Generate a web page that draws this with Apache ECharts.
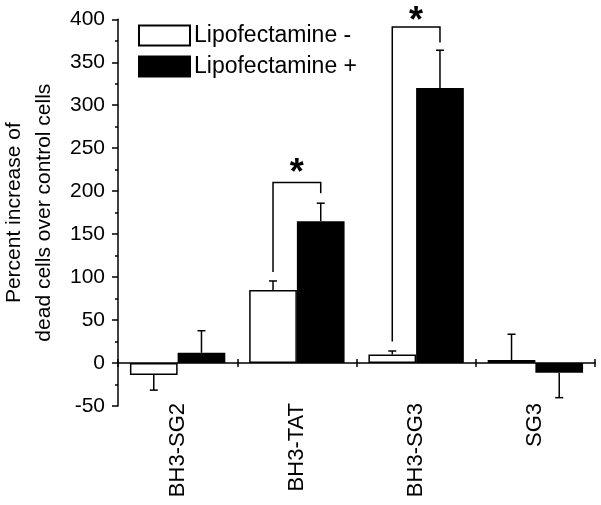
<!DOCTYPE html>
<html>
<head>
<meta charset="utf-8">
<script src="https://cdn.jsdelivr.net/npm/echarts@6/dist/echarts.min.js"></script>
<style>
html,body{margin:0;padding:0;background:#fff;}
#chart{width:601px;height:505px;}
</style>
</head>
<body>
<div id="chart"></div>
<script>
// ---- data ----
const categories = ['BH3-SG2', 'BH3-TAT', 'BH3-SG3', 'SG3'];
const lipoMinus = [-14, 85, 10, 3.5];
const lipoMinusErr = [17.5, 10.5, 4, 30];
const lipoPlus = [12, 165, 320, -11.3];
const lipoPlusErr = [25.6, 21, 44, 29];
// significance brackets: category index, left end, top, right end, star level
const bracketCats = [1, 2];
const bracketLeftEnd = [106, 25];
const bracketTop = [210, 391];
const bracketRightEnd = [197.5, 373];
const starLevel = [229, 405.6];
const yMin = -50, yMax = 400, yStep = 50;

const FONT = "'Liberation Sans', Arial, sans-serif";
const chart = echarts.init(document.getElementById('chart'), null, {renderer: 'canvas'});

function errRender(side) {
  return function (params, api) {
    const cat = api.value(0), v = api.value(1), e = api.value(2);
    const band = api.size([1, 0])[0];
    const off = side * band * 0.2;
    const p0 = api.coord([cat, v]);
    const end = v >= 0 ? v + e : v - e;
    const p1 = api.coord([cat, end]);
    const x = p0[0] + off;
    const st = {stroke: '#000', lineWidth: 1.5};
    return {type: 'group', children: [
      {type: 'line', shape: {x1: x, y1: p0[1], x2: x, y2: p1[1]}, style: st},
      {type: 'line', shape: {x1: x - 4, y1: p1[1], x2: x + 4, y2: p1[1]}, style: st}
    ]};
  };
}

function bracketRender(params, api) {
  const cat = api.value(0);
  const band = api.size([1, 0])[0];
  const c = api.coord([cat, 0])[0];
  const xl = c - band * 0.2, xr = c + band * 0.2;
  const yl = api.coord([cat, api.value(1)])[1];
  const yt = api.coord([cat, api.value(2)])[1];
  const yr = api.coord([cat, api.value(3)])[1];
  const ys = api.coord([cat, api.value(4)])[1];
  return {type: 'group', children: [
    {type: 'polyline', shape: {points: [[xl, yl], [xl, yt], [xr, yt], [xr, yr]]},
     style: {stroke: '#000', lineWidth: 1.5, fill: null}},
    {type: 'text', x: c, y: ys + 8,
     style: {text: '*', font: 'bold 36px ' + FONT, fill: '#000', align: 'center', verticalAlign: 'middle'}}
  ]};
}

const bracketData = bracketCats.map((c, i) => [c, bracketLeftEnd[i], bracketTop[i], bracketRightEnd[i], starLevel[i]]);

const option = {
  animation: false,
  backgroundColor: '#fff',
  textStyle: {fontFamily: FONT},
  grid: {left: 118, right: 6, top: 19.3, bottom: 99, containLabel: false, outerBoundsMode: 'none'},
  legend: {
    orient: 'vertical', left: 138, top: 24, padding: 0, itemWidth: 51, itemHeight: 20, itemGap: 8,
    icon: 'rect',
    data: ['Lipofectamine -', 'Lipofectamine +'],
    textStyle: {fontSize: 23, color: '#000', fontFamily: FONT, padding: [0, 0, 0, -1]}
  },
  xAxis: [{
    type: 'category', data: categories, position: 'bottom',
    axisLine: {onZero: true, onZeroAxisIndex: 0, lineStyle: {color: '#000', width: 1.5}},
    axisTick: {show: true, inside: false, length: 4, lineStyle: {color: '#000', width: 1.5}},
    axisLabel: {rotate: 90, margin: -3, fontSize: 22, color: '#000', fontFamily: FONT},
    splitLine: {show: false}
  }, {
    type: 'category', data: categories, position: 'top',
    axisLine: {show: false, onZero: true, onZeroAxisIndex: 0},
    axisTick: {show: true, inside: false, length: 4, lineStyle: {color: '#000', width: 1.5}},
    axisLabel: {show: false},
    splitLine: {show: false}
  }],
  yAxis: {
    type: 'value', min: yMin, max: yMax, interval: yStep,
    name: 'Percent increase of\ndead cells over control cells',
    nameLocation: 'middle', nameGap: 54,
    nameTextStyle: {fontSize: 21, color: '#000', lineHeight: 30, fontFamily: FONT},
    axisLine: {show: true, lineStyle: {color: '#000', width: 1.5}},
    axisTick: {show: true, length: 6, lineStyle: {color: '#000', width: 1.5}},
    minorTick: {show: true, splitNumber: 2, length: 3, lineStyle: {color: '#000', width: 1.5}},
    axisLabel: {fontSize: 21, color: '#000', margin: 13, fontFamily: FONT},
    splitLine: {show: false}
  },
  series: [{
    name: 'Lipofectamine -', type: 'bar', data: lipoMinus, barGap: '0%', barCategoryGap: '20%',
    itemStyle: {color: '#fff', borderColor: '#000', borderWidth: 1.5}
  }, {
    name: 'Lipofectamine +', type: 'bar', data: lipoPlus, barGap: '0%', barCategoryGap: '20%',
    itemStyle: {color: '#000', borderColor: '#000', borderWidth: 1.5}
  }, {
    name: 'errMinus', type: 'custom', clip: false, z: 3,
    renderItem: errRender(-1),
    data: lipoMinus.map((v, i) => [i, v, lipoMinusErr[i]])
  }, {
    name: 'errPlus', type: 'custom', clip: false, z: 3,
    renderItem: errRender(1),
    data: lipoPlus.map((v, i) => [i, v, lipoPlusErr[i]])
  }, {
    name: 'brackets', type: 'custom', clip: false, z: 3,
    renderItem: bracketRender,
    data: bracketData
  }]
};
chart.setOption(option);
</script>
</body>
</html>
